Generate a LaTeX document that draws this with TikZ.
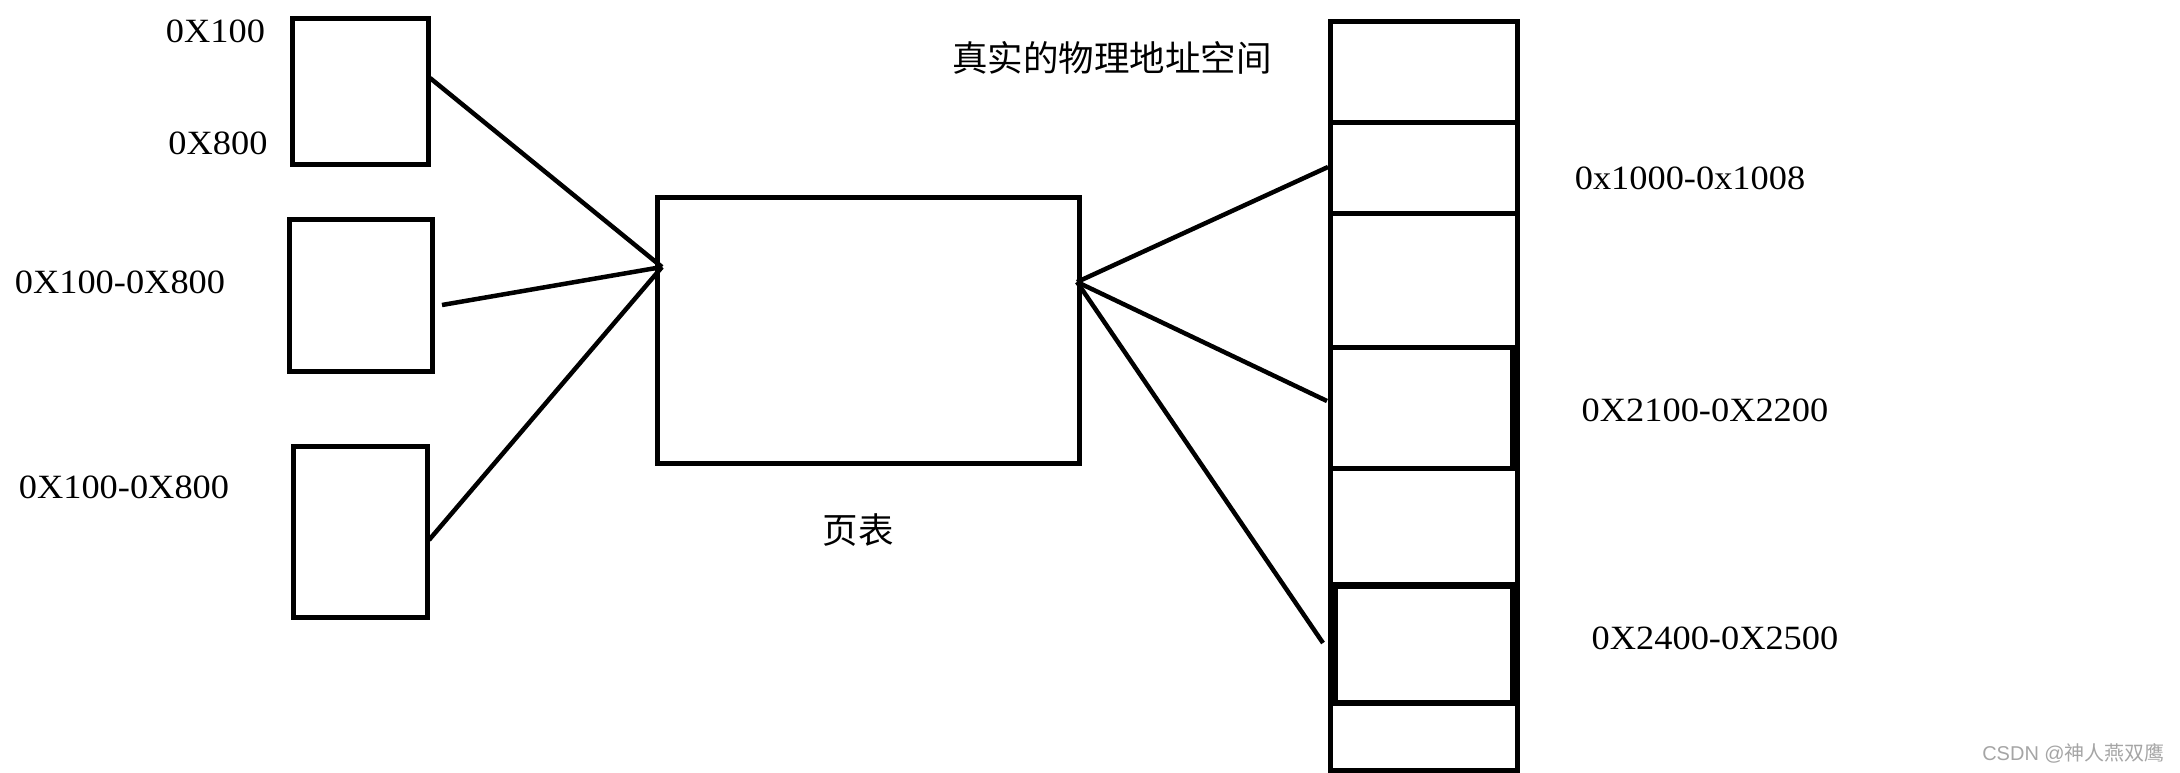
\documentclass[tikz,border=0pt]{standalone}
\usepackage{fontspec}
\setmainfont{Liberation Serif}
\newfontfamily\lblfont[FakeStretch=1.07]{Liberation Serif}
\newfontfamily\cjk{Noto Sans CJK SC}
\newfontfamily\wmfont{Liberation Sans}
\definecolor{wmgray}{RGB}{165,165,165}
\begin{document}
\begin{tikzpicture}[x=1pt,y=-1pt,
  box/.style={draw, rectangle, line width=5pt, inner sep=0pt},
  conn/.style={line width=4.5pt},
  lbl/.style={inner sep=0pt, font=\lblfont\fontsize{34}{40}\selectfont},
  cjklbl/.style={inner sep=0pt, font=\cjk\fontsize{35.5}{40}\selectfont},
  wm/.style={inner sep=0pt, text=wmgray, font=\wmfont\fontsize{20}{24}\selectfont}]
\useasboundingbox (0,0) rectangle (2180,773);
% left boxes
\node[box, minimum width=136pt, minimum height=146pt] (box1) at (360,92) {};
\node[box, minimum width=143pt, minimum height=152pt] (box2) at (360.5,295) {};
\node[box, minimum width=134pt, minimum height=171pt] (box3) at (360,531.5) {};
% page table
\node[box, minimum width=422pt, minimum height=266pt] (ptab) at (868,330) {};
% memory column
\node[box, minimum width=187pt, minimum height=101pt] (c0) at (1423.5,72.5) {};
\node[box, minimum width=187pt, minimum height=90pt] (c1) at (1423.5,168) {};
\node[box, minimum width=187pt, minimum height=134pt] (c2) at (1423.5,280) {};
\node[box, minimum width=187pt, minimum height=121pt] (c3) at (1423.5,407.5) {};
\node[box, minimum width=187pt, minimum height=116pt] (c4) at (1423.5,526) {};
\node[box, minimum width=187pt, minimum height=119pt] (c5) at (1423.5,643.5) {};
\node[box, minimum width=187pt, minimum height=67pt] (c6) at (1423.5,736.5) {};
\node[box, minimum width=182pt, minimum height=121pt] (c3in) at (1421,407.5) {};
\node[box, minimum width=177pt, minimum height=116pt] (c5in) at (1423.5,644) {};
% labels
\node[lbl] (t1) at (215.5,31) {0X100};
\node[lbl] (t2) at (218,143) {0X800};
\node[lbl] (t3) at (120,282) {0X100-0X800};
\node[lbl] (t4) at (124,487) {0X100-0X800};
\node[cjklbl] (title) at (1112,58) {真实的物理地址空间};
\node[cjklbl] (ptl) at (858,530) {页表};
\node[lbl] (m1) at (1690,178) {0x1000-0x1008};
\node[lbl] (m2) at (1705,410) {0X2100-0X2200};
\node[lbl] (m3) at (1715,638) {0X2400-0X2500};
\node[wm, anchor=east] (wmk) at (2165,753) {CSDN @{\cjk 神人燕双鹰}};
% connector points
\coordinate (pl) at (662,267);
\coordinate (pr) at (1077,282);
\coordinate (b1o) at (430,78);
\coordinate (b2o) at (442,305);
\coordinate (b3o) at (429,540);
\coordinate (m1i) at (1328,167);
\coordinate (m2i) at (1327,401);
\coordinate (m3i) at (1323,643);
\draw[conn] (b1o) -- (pl);
\draw[conn] (b2o) -- (pl);
\draw[conn] (b3o) -- (pl);
\draw[conn] (pr) -- (m1i);
\draw[conn] (pr) -- (m2i);
\draw[conn] (pr) -- (m3i);
\end{tikzpicture}
\end{document}
